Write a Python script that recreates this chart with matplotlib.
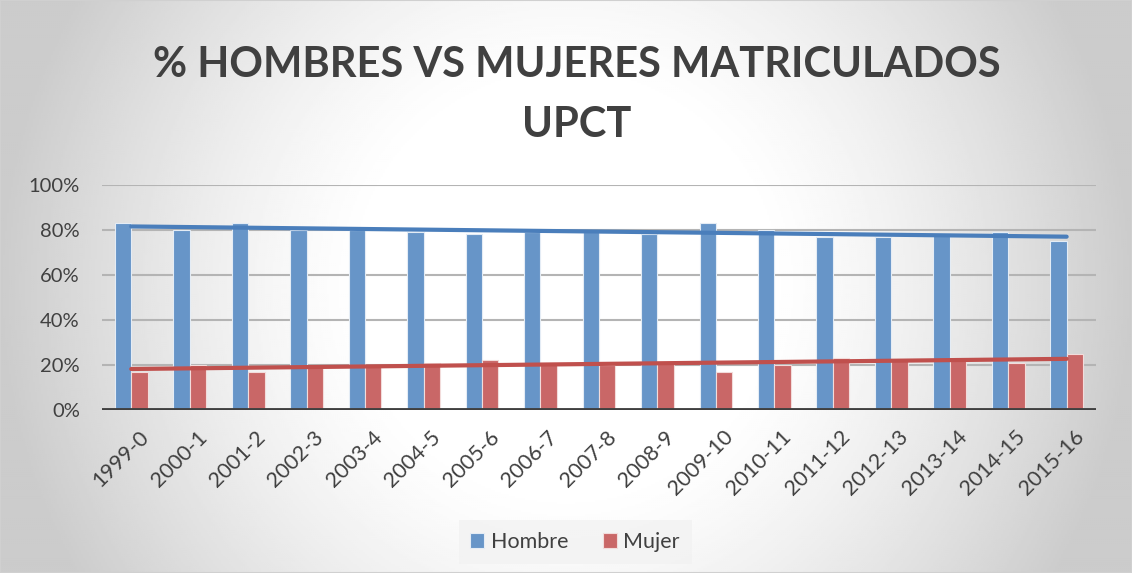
import numpy as np
import matplotlib.pyplot as plt
from matplotlib.ticker import PercentFormatter
from matplotlib.patches import Rectangle
from matplotlib.transforms import ScaledTranslation

cursos = ['1999-0', '2000-1', '2001-2', '2002-3', '2003-4', '2004-5', '2005-6',
          '2006-7', '2007-8', '2008-9', '2009-10', '2010-11', '2011-12',
          '2012-13', '2013-14', '2014-15', '2015-16']
hombres = [0.83, 0.80, 0.83, 0.80, 0.80, 0.79, 0.78, 0.79, 0.79, 0.78, 0.83,
           0.80, 0.77, 0.77, 0.78, 0.79, 0.75]
mujeres = [0.17, 0.20, 0.17, 0.19, 0.20, 0.21, 0.22, 0.21, 0.20, 0.21, 0.17,
           0.20, 0.23, 0.22, 0.22, 0.21, 0.25]

plt.rcParams['font.family'] = ['Lato', 'DejaVu Sans']
txt = '#404040'

fig = plt.figure(figsize=(11.32, 5.73), dpi=100)

# Radial grey background, as in the spreadsheet chart.
bg = fig.add_axes([0, 0, 1, 1], zorder=-10)
gx, gy = np.meshgrid(np.linspace(0, 1, 566), np.linspace(0, 1, 287))
r = np.sqrt(((gx - 0.5) / 0.5) ** 2 + ((gy - 0.5) / 1.0) ** 2)
shade = 1 - 0.2 * np.clip((r - 0.35) / 0.65, 0, 1) ** 1.3
bg.imshow(shade, cmap='gray', vmin=0, vmax=1, aspect='auto', extent=[0, 1, 0, 1])
bg.add_patch(Rectangle((0, 0), 1, 1, fill=False, edgecolor='#D0D0D0', lw=1.5,
                       transform=bg.transAxes))
bg.axis('off')

ax = fig.add_axes([0.0901, 0.2845, 0.878, 0.3927])
ax.set_facecolor('none')

x = np.arange(len(cursos))
w = 0.28
ax.bar(x - w / 2, hombres, w, color='#6795C8', edgecolor='#E4ECF5', lw=0.8,
       label='Hombre', zorder=2)
ax.bar(x + w / 2, mujeres, w, color='#C96767', edgecolor='#F2DCDB', lw=0.8,
       label='Mujer', zorder=2)

# Linear trend lines.
for vals, c in [(hombres, '#4A7EBB'), (mujeres, '#C0504D')]:
    m, b = np.polyfit(x, vals, 1)
    ax.plot(x, m * x + b, color=c, lw=3, zorder=3, solid_capstyle='round')

ax.set_xlim(-0.5, len(cursos) - 0.5)
ax.set_ylim(0, 1)
ax.set_yticks(np.arange(0, 1.01, 0.2))
ax.yaxis.set_major_formatter(PercentFormatter(1, decimals=0))
ax.grid(axis='y', color='#B4B4B4', lw=1.5, zorder=0)
ax.axhline(0, color='#404040', lw=3.5, zorder=4)
for s in ax.spines.values():
    s.set_visible(False)
ax.tick_params(length=0, labelsize=15.5, colors=txt)
ax.tick_params(axis='y', labelsize=14.5, pad=16)
ax.set_xticks(x)
ax.set_xticklabels(cursos, rotation=45, ha='right', rotation_mode='anchor')
shift = ScaledTranslation(0.07, -0.12, fig.dpi_scale_trans)
for lbl in ax.get_xticklabels():
    lbl.set_transform(lbl.get_transform() + shift)

fig.text(0.5097, 0.886, '% HOMBRES VS MUJERES MATRICULADOS', ha='center',
         va='center', fontsize=30, fontweight='bold', color=txt)
fig.text(0.5097, 0.782, 'UPCT', ha='center', va='center', fontsize=30,
         fontweight='bold', color=txt)

leg = fig.legend(loc='center', bbox_to_anchor=(0.508, 0.054), ncol=2,
                 fontsize=15.5, frameon=True, fancybox=False, handlelength=0.65,
                 handleheight=0.65, handletextpad=0.3, columnspacing=1.6,
                 borderpad=0.55)
leg.get_frame().set_facecolor('#F2F2F2')
leg.get_frame().set_edgecolor('none')
for t in leg.get_texts():
    t.set_color(txt)

fig.savefig('out.png', dpi=100)
